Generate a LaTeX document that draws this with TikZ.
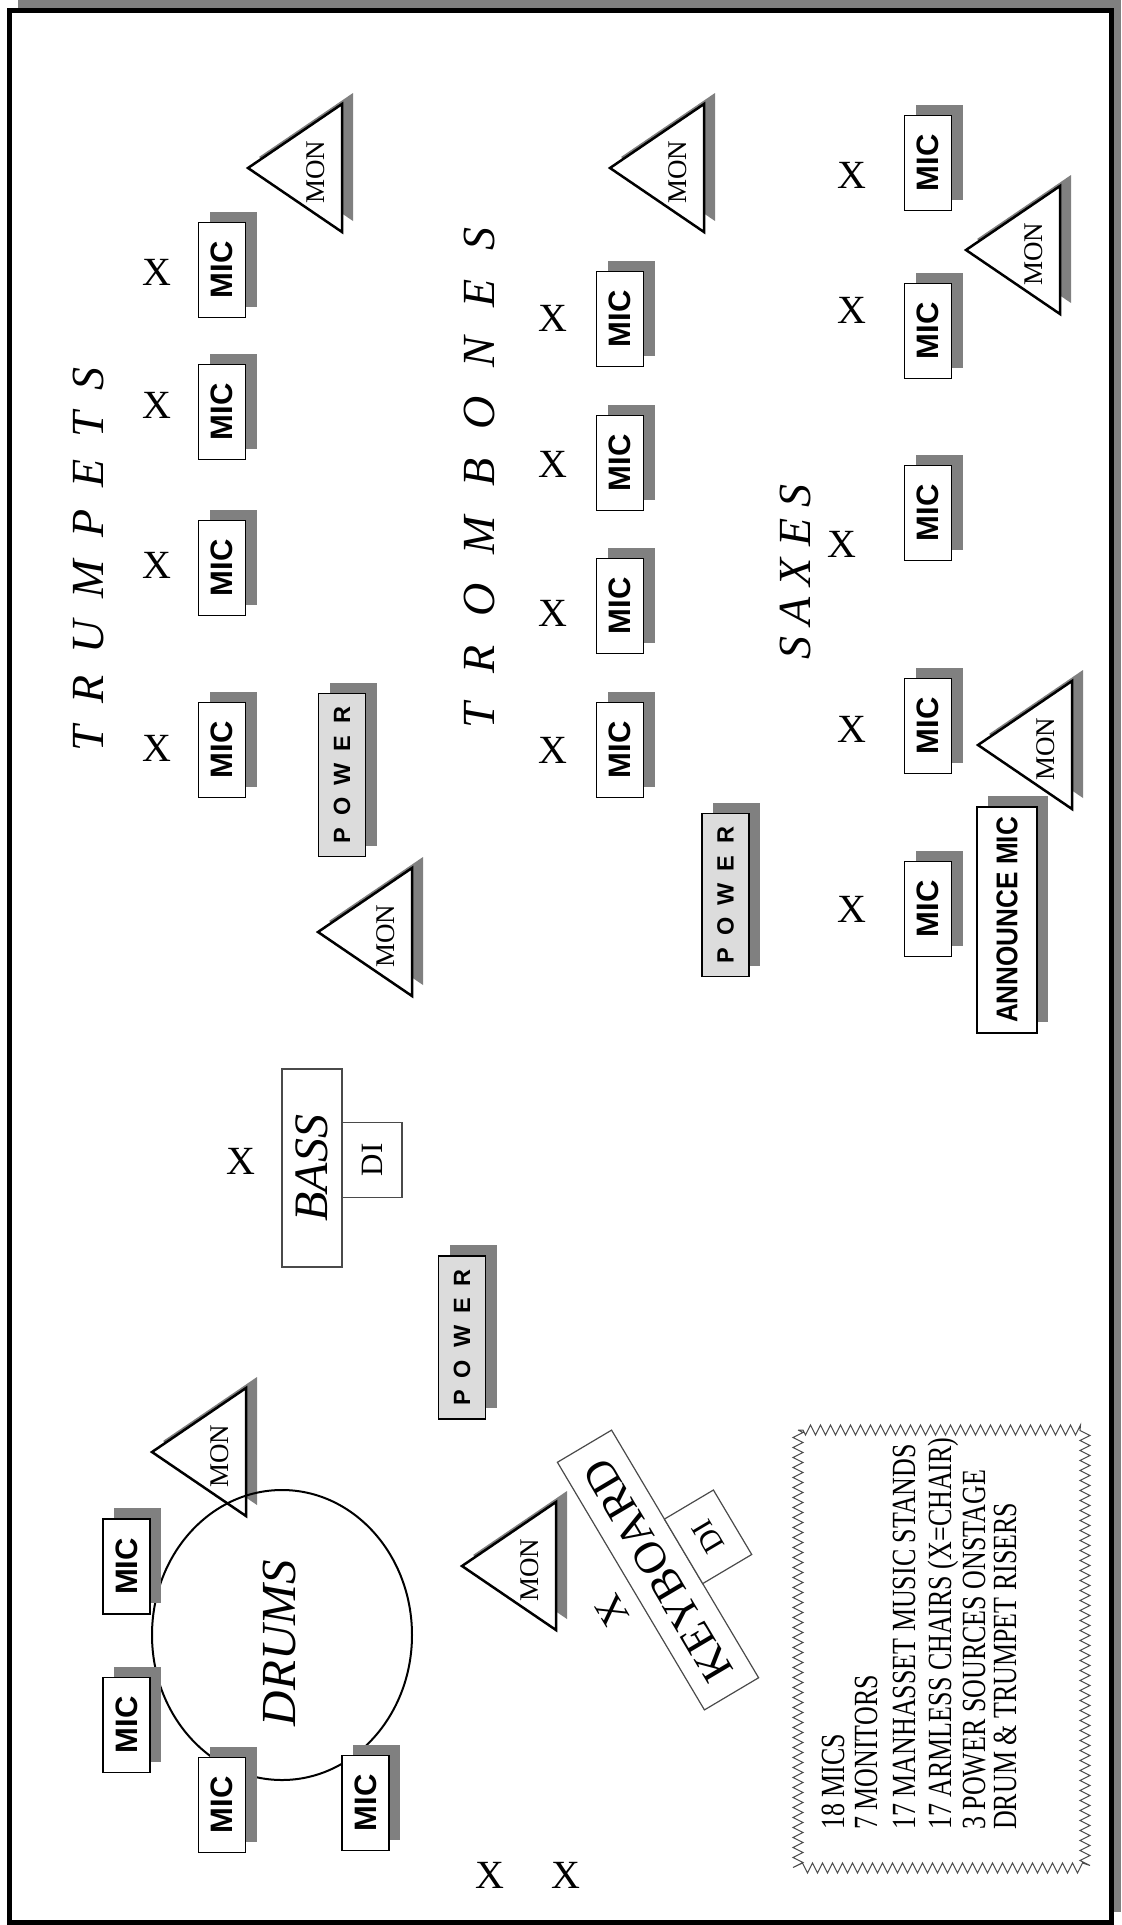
\documentclass[tikz,border=0pt]{standalone}
\usepackage{fontspec}
\setmainfont{Liberation Serif}
\setsansfont{Liberation Sans}
\usetikzlibrary{decorations.pathmorphing}
\definecolor{shc}{HTML}{808080}
\definecolor{pwc}{HTML}{DCDCDC}
\definecolor{edc}{HTML}{4A4A4A}
\newcommand\fsz[1]{\fontsize{#1bp}{#1bp}\selectfont}
\tikzset{
  micbox/.style={draw, line width=1.6bp, fill=white, rotate=90, minimum width=95bp, minimum height=47bp, inner sep=0pt, font=\sffamily\bfseries\fsz{31}},
  powbox/.style={draw, line width=1.4bp, fill=pwc, rotate=90, minimum width=163bp, minimum height=47bp, inner sep=0pt, font=\sffamily\bfseries\fsz{23.5}},
  annbox/.style={draw, line width=1.6bp, fill=white, rotate=90, minimum width=226bp, minimum height=60bp, inner sep=0pt},
  tri/.style={draw, line width=2.5bp, fill=white, line join=miter},
  montext/.style={rotate=90, inner sep=0pt, font=\fsz{27}},
  chair/.style={inner sep=0pt, font=\fsz{40}},
  title/.style={rotate=90, inner sep=0pt, font=\itshape\fsz{46}},
  thinbox/.style={draw=edc, line width=1.2bp, fill=white, inner sep=0pt},
  legline/.style={rotate=90, anchor=base west, inner sep=0pt, font=\fsz{26}, yscale=1.3},
}
\newcommand\MicAt[3]{%
  \fill[shc] (#2-12.5,#3-58.5) rectangle (#2+34.5,#3+36.5);
  \node[micbox] (#1) at (#2,#3) {MIC};}
\newcommand\PowAt[3]{%
  \fill[shc] (#2-12.5,#3-92.5) rectangle (#2+34.5,#3+70.5);
  \node[powbox] (#1) at (#2,#3) {P\kern12bp O\kern12bp W\kern12bp E\kern12bp R};}
\newcommand\MonAt[3]{%
  \fill[shc] (#2-83,#3-11) -- (#2+11,#3-75) -- (#2+11,#3+53) -- cycle;
  \path[tri] (#2-94,#3) -- (#2,#3-64) -- (#2,#3+64) -- cycle;
  \node[montext] (#1) at (#2-26,#3+4) {MON};}
\begin{document}
\begin{tikzpicture}[x=1bp,y=-1bp]
\useasboundingbox (0,0) rectangle (1121,1925);
% frame
\fill[shc] (18,0) rectangle (1121,1912);
\filldraw[fill=white, line width=5bp] (9.5,10.5) rectangle (1111.5,1922.5);

% ---------- trumpets
\node[title] (trp) at (88,559) {T\kern22bp R\kern22bp U\kern22bp M\kern22bp P\kern22bp E\kern22bp T\kern22bp S};
\node[chair] (tx1) at (157,748) {X};
\node[chair] (tx2) at (157,565) {X};
\node[chair] (tx3) at (157,405) {X};
\node[chair] (tx4) at (157,272) {X};
\MicAt{tm1}{222}{750}
\MicAt{tm2}{222}{568}
\MicAt{tm3}{222}{412}
\MicAt{tm4}{222}{270}
\MonAt{mon1}{342}{168}

\PowAt{pw1}{342}{775}
\MonAt{mon2}{412}{932}

% ---------- trombones
\node[title] (trb) at (479,478) {T\kern29bp R\kern29bp O\kern29bp M\kern29bp B\kern29bp O\kern29bp N\kern29bp E\kern29bp S};
\node[chair] (bx1) at (553,750) {X};
\node[chair] (bx2) at (553,613) {X};
\node[chair] (bx3) at (553,464) {X};
\node[chair] (bx4) at (553,318) {X};
\MicAt{bm1}{620}{750}
\MicAt{bm2}{620}{606}
\MicAt{bm3}{620}{463}
\MicAt{bm4}{620}{319}
\MonAt{mon3}{704}{168}

\PowAt{pw2}{725.5}{895}

% ---------- saxes
\node[title] (sax) at (795,572) {S\kern11bp A\kern11bp X\kern11bp E\kern11bp S};
\node[chair] (sx1) at (852,909) {X};
\node[chair] (sx2) at (852,729) {X};
\node[chair] (sx3) at (842,544) {X};
\node[chair] (sx4) at (852,310) {X};
\node[chair] (sx5) at (852,175) {X};
\MicAt{sm1}{928}{909}
\MicAt{sm2}{928}{726}
\MicAt{sm3}{928}{513}
\MicAt{sm4}{928}{331}
\MicAt{sm5}{928}{163}
\MonAt{mon4}{1060}{250}
\MonAt{mon5}{1072}{745}
\fill[shc] (988,796) rectangle (1048,1022);
\node[annbox] (ann) at (1007,920) {\sffamily\bfseries\fsz{30}\scalebox{0.87}[1]{ANNOUNCE MIC}};

% ---------- bass
\node[chair] (bx) at (241,1161) {X};
\node[thinbox, rotate=90, minimum width=198bp, minimum height=60bp] (bass) at (312,1168) {\itshape\fsz{48}BASS};
\node[thinbox, rotate=90, minimum width=75bp, minimum height=60bp] (bdi) at (372,1160) {\fsz{31}DI};
\PowAt{pw3}{462}{1337.5}

% ---------- drums
\MonAt{mon6}{246}{1452}
\draw[line width=2bp] (282,1635) ellipse [x radius=130, y radius=145];
\node[rotate=90, inner sep=0pt, font=\itshape\fsz{49}] (drums) at (280,1643) {DRUMS};
\MicAt{dm1}{126.5}{1566.5}
\MicAt{dm2}{126.5}{1725}
\MicAt{dm3}{222}{1805}
\MicAt{dm4}{365.5}{1803}
\node[chair] (dx1) at (490,1875) {X};
\node[chair] (dx2) at (566,1875) {X};

% ---------- keyboard
\MonAt{mon7}{556}{1566}
\begin{scope}[shift={(658,1570)}, rotate=120.7, transform shape]
  \node[thinbox, minimum width=288bp, minimum height=63bp] (kbd) at (0,0) {\fsz{45}KEYBOARD};
  \node[thinbox, minimum width=75bp, minimum height=57bp] (kdi) at (3,60) {\fsz{31}DI};
\end{scope}
\node[chair, rotate=120.7] (kx) at (612,1611) {X};

% ---------- legend
\draw[edc, line width=1bp, decorate, decoration={zigzag, amplitude=5bp, segment length=10bp}] (798,1430) rectangle (1085,1868);
\node[legline] (l1) at (844,1830) {18 MICS};
\node[legline] (l2) at (877,1830) {7 MONITORS};
\node[legline] (l3) at (915,1830) {17 MANHASSET MUSIC STANDS};
\node[legline] (l4) at (951,1830) {17 ARMLESS CHAIRS (X=CHAIR)};
\node[legline] (l5) at (985,1830) {3 POWER SOURCES ONSTAGE};
\node[legline] (l6) at (1016,1830) {DRUM \& TRUMPET RISERS};
\end{tikzpicture}
\end{document}
